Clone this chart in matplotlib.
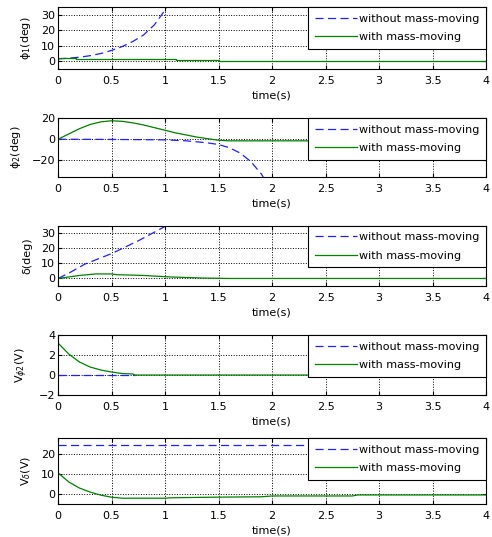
import matplotlib.pyplot as plt
import numpy as np

# time grids + values
t_phi1_a = [0, 0.1, 0.2, 0.3, 0.4, 0.5, 0.6, 0.7, 0.8, 0.9, 1.0, 1.03]
phi1_a = [1.5, 2, 2.6, 3.6, 5, 7, 9.5, 12.8, 17, 23.5, 33, 37]
t_phi1_b = [0, 0.17, 0.17, 1.1, 1.1, 1.5, 1.5, 4]
phi1_b = [2, 2, 1.3, 1.3, 0.6, 0.6, 0, 0]

t_phi2_a = [0, 0.5, 1.0, 1.2, 1.4, 1.5, 1.6, 1.7, 1.8, 1.9, 1.93]
phi2_a = [0, -0.2, -0.6, -1.5, -3.5, -5, -8, -13, -21, -33, -38]
t_phi2_b = [0, 0.1, 0.2, 0.3, 0.4, 0.5, 0.6, 0.7, 0.8, 0.9, 1.0, 1.1, 1.2, 1.3, 1.4, 1.5, 1.6, 2.0, 4]
phi2_b = [0, 5, 10, 14, 16.5, 17.5, 17, 15.5, 13.5, 11, 8.5, 6, 4, 2, 0.5, -1, -1.5, -1.5, -1.5]

t_delta_a = [0, 0.1, 0.25, 0.5, 0.75, 1.0, 1.03]
delta_a = [0, 3.5, 9.5, 16.5, 25, 34.5, 36.5]
t_delta_b = [0, 0.1, 0.2, 0.35, 0.5, 0.55, 0.8, 1.05, 1.35, 1.6, 4]
delta_b = [0, 1, 2, 3, 3, 2.5, 2, 1, 0.3, 0, 0]

t_vphi_a = [0, 0.72]
vphi_a = [0, 0]
t_vphi_b = [0, 0.1, 0.2, 0.3, 0.4, 0.5, 0.6, 0.7, 0.72, 4]
vphi_b = [3.2, 2.1, 1.3, 0.8, 0.5, 0.3, 0.15, 0.1, 0, 0]

t_vdel_a = [0, 4]
vdel_a = [24, 24]
t_vdel_b = [0, 0.1, 0.2, 0.3, 0.4, 0.5, 0.6, 1.0, 1.05, 1.45, 1.9, 2.0, 2.75, 2.8, 4]
vdel_b = [10.5, 6, 3, 1, -0.5, -1.5, -2, -2, -1.8, -1.5, -1.3, -0.9, -0.9, -0.4, -0.4]

series = [
    (t_phi1_a, phi1_a, t_phi1_b, phi1_b, 'ϕ$_1$(deg)', (-5, 35), [0, 10, 20, 30]),
    (t_phi2_a, phi2_a, t_phi2_b, phi2_b, 'ϕ$_2$(deg)', (-36, 20), [-20, 0, 20]),
    (t_delta_a, delta_a, t_delta_b, delta_b, 'δ(deg)', (-5, 35), [0, 10, 20, 30]),
    (t_vphi_a, vphi_a, t_vphi_b, vphi_b, 'V$_{ϕ2}$(V)', (-2, 4), [-2, 0, 2, 4]),
    (t_vdel_a, vdel_a, t_vdel_b, vdel_b, 'V$_δ$(V)', (-5, 27.5), [0, 10, 20]),
]

# axes rects (left, bottom, width, height) in figure fraction
rects = [
    (0.118, 0.8715, 0.870, 0.1155),
    (0.118, 0.670, 0.870, 0.110),
    (0.118, 0.4674, 0.870, 0.1123),
    (0.118, 0.2644, 0.870, 0.1117),
    (0.118, 0.0609, 0.870, 0.1229),
]

plt.rcParams['font.size'] = 8
plt.rcParams['mathtext.fontset'] = 'dejavusans'

fig = plt.figure(figsize=(4.92, 5.37), dpi=100)
for rect, (ta, ya, tb, yb, lab, ylim, yt) in zip(rects, series):
    ax = fig.add_axes(rect)
    ax.plot(ta, ya, '--', color='#2020ff', lw=0.9, dashes=(6.5, 3.5), label='without mass-moving')
    ax.plot(tb, yb, '-', color='#008000', lw=0.9, label='with mass-moving')
    ax.set_xlim(0, 4)
    ax.set_ylim(*ylim)
    ax.set_xticks(np.arange(0, 4.01, 0.5))
    ax.set_xticklabels(['0', '0.5', '1', '1.5', '2', '2.5', '3', '3.5', '4'])
    ax.set_yticks(yt)
    ax.grid(True, color='black', linestyle=':', linewidth=0.7)
    ax.tick_params(direction='in', top=True, right=True, length=3)
    ax.tick_params(axis='x', pad=5)
    ax.tick_params(axis='y', pad=2)
    for s in ax.spines.values():
        s.set_linewidth(0.8)
    ax.set_xlabel('time(s)', labelpad=3)
    ax.set_ylabel(lab, labelpad=6)
    leg = ax.legend(loc='upper right', borderaxespad=0, fancybox=False,
                    edgecolor='black', framealpha=1, handlelength=3.8,
                    handletextpad=0.2, borderpad=0.6, labelspacing=0.75)
    leg.get_frame().set_linewidth(0.8)

fig.savefig('out.png', dpi=100)
